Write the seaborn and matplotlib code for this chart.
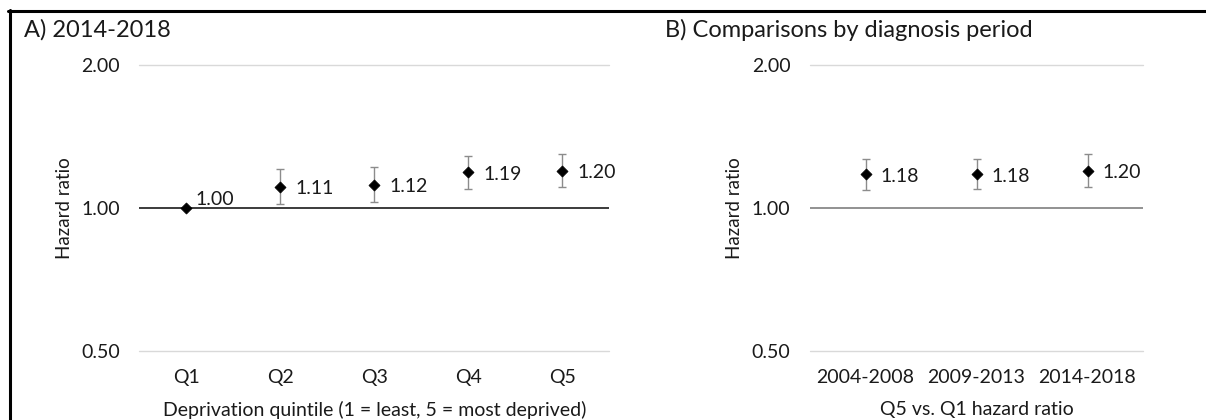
import numpy as np
import pandas as pd
import matplotlib.pyplot as plt
import seaborn as sns
from matplotlib.lines import Line2D

# Panel A: hazard ratios by deprivation quintile (2014-2018)
quintiles = ["Q1", "Q2", "Q3", "Q4", "Q5"]
hr_quintile = [1.00, 1.11, 1.12, 1.19, 1.20]
lo_quintile = [1.00, 1.02, 1.03, 1.10, 1.11]
hi_quintile = [1.00, 1.21, 1.22, 1.29, 1.30]

# Panel B: Q5 vs Q1 by diagnosis period
periods = ["2004-2008", "2009-2013", "2014-2018"]
hr_period = [1.18, 1.18, 1.20]
lo_period = [1.09, 1.10, 1.11]
hi_period = [1.27, 1.27, 1.30]

sns.set_theme(style="white")
plt.rcParams["font.family"] = ["Lato", "DejaVu Sans"]

fig = plt.figure(figsize=(12.06, 4.2), dpi=100)
ax_a = fig.add_axes([139.3 / 1206, 1 - 351 / 420, 470 / 1206, 285.7 / 420])
ax_b = fig.add_axes([810 / 1206, 1 - 351 / 420, 333 / 1206, 285.7 / 420])


def draw_panel(ax, cats, hr, lo, hi, ref_color, xlabel, label_offsets):
    df = pd.DataFrame({"cat": cats, "hr": hr})
    # gridlines at the axis limits + reference line at 1
    for v in [0.5, 2.0]:
        ax.axhline(v, color="#d9d9d9", lw=1.0, clip_on=False, zorder=1)
    ax.axhline(1.0, color=ref_color, lw=1.2, zorder=1)
    x = np.arange(len(cats))
    hr_a = np.array(hr)
    lo_a, hi_a = np.array(lo), np.array(hi)
    has_ci = (hi_a - lo_a) > 0
    ax.errorbar(x[has_ci], hr_a[has_ci],
                yerr=[(hr_a - lo_a)[has_ci], (hi_a - hr_a)[has_ci]],
                fmt="none", ecolor="#8c8c8c", elinewidth=1.0, capsize=2.9,
                capthick=1.0, zorder=2)
    sns.scatterplot(data=df, x="cat", y="hr", marker="D", s=32, color="black",
                    edgecolor="black", linewidth=0.5, ax=ax, zorder=3)
    for i, v in enumerate(hr):
        dx, dy = label_offsets[i]
        ax.annotate(f"{v:.2f}", (i, v), xytext=(dx, dy), textcoords="offset pixels",
                    ha="left", va="center", fontsize=14, color="#1a1a1a")
    ax.set_yscale("log", base=2)
    ax.set_ylim(0.5, 2.0)
    ax.set_xlim(-0.5, len(cats) - 0.5)
    ax.set_yticks([0.5, 1.0, 2.0])
    ax.set_yticklabels(["0.50", "1.00", "2.00"])
    ax.minorticks_off()
    ax.tick_params(axis="y", length=0, pad=14, labelsize=14, labelcolor="#1a1a1a")
    ax.tick_params(axis="x", length=0, pad=13, labelsize=14, labelcolor="#1a1a1a")
    for s in ax.spines.values():
        s.set_visible(False)
    ax.set_ylabel("Hazard ratio", fontsize=13.5, color="#1a1a1a", labelpad=6)
    ax.set_xlabel(xlabel, fontsize=14, color="#1a1a1a", labelpad=11)


draw_panel(ax_a, quintiles, hr_quintile, lo_quintile, hi_quintile, "#1a1a1a",
           "Deprivation quintile (1 = least, 5 = most deprived)",
           [(9, 9), (15, -2), (15, -2), (15, -2), (15, -2)])
draw_panel(ax_b, periods, hr_period, lo_period, hi_period, "#7f7f7f",
           "Q5 vs. Q1 hazard ratio",
           [(15, -2), (15, -2), (15, -2)])

fig.text(24 / 1206, 1 - 30 / 420, "A) 2014-2018", fontsize=17, va="center",
         ha="left", color="#1a1a1a")
fig.text(665 / 1206, 1 - 30 / 420, "B) Comparisons by diagnosis period", fontsize=17,
         va="center", ha="left", color="#1a1a1a")

# outer frame (top and left edges visible)
fig.add_artist(Line2D([8 / 1206, 1.0], [1 - 11 / 420] * 2, color="black", lw=2.2))
fig.add_artist(Line2D([9.5 / 1206] * 2, [0.0, 1 - 10 / 420], color="black", lw=2.2))

fig.savefig("out.png", dpi=100)
